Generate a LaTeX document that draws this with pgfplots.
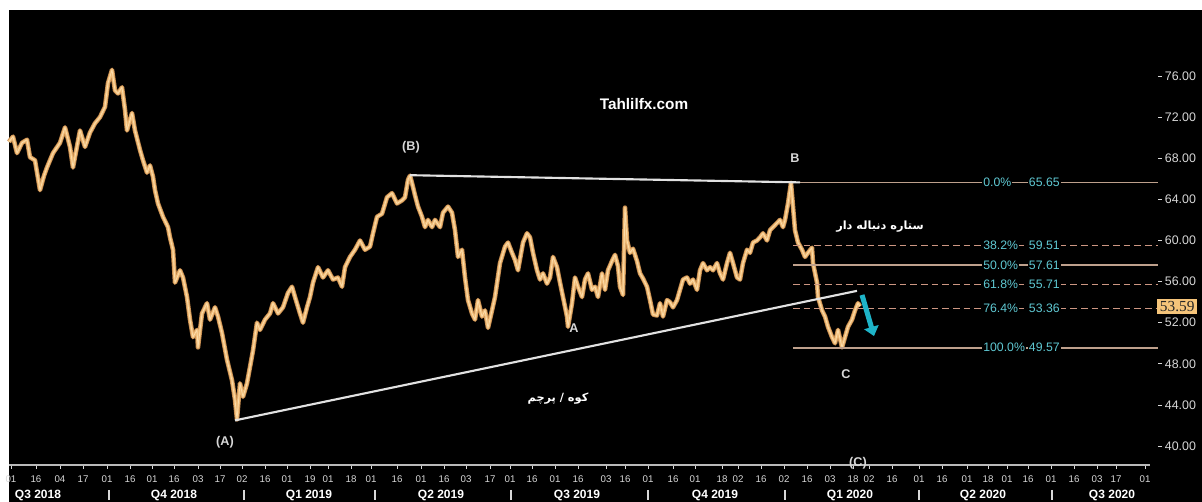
\documentclass[border=0pt]{standalone}
\usepackage{pgfplots}
\pgfplotsset{compat=1.18}
\usepackage{fontspec}
\setmainfont{Liberation Sans}
\newfontfamily\serifnum{Liberation Serif}
\newfontfamily\arabicfont[Script=Arabic]{DejaVu Sans}
\TeXXeTstate=1
\usetikzlibrary{arrows.meta}
\definecolor{pricelo}{RGB}{196,138,78}
\definecolor{price}{RGB}{240,188,120}
\definecolor{pricehi}{RGB}{252,220,170}
\definecolor{trend}{RGB}{225,225,225}
\definecolor{fibsolid}{RGB}{190,160,140}
\definecolor{fibdash}{RGB}{205,150,130}
\definecolor{fibtxt}{RGB}{95,200,210}
\definecolor{arrowc}{RGB}{30,180,200}
\definecolor{lbl}{RGB}{215,215,215}
\definecolor{pxbox}{RGB}{245,196,122}
\pgfplotstableread{
x v
9 69.6
13 70.1
17 68.5
22 69.5
27 69.8
30 68.1
35 67.8
40 64.9
44 66.3
47 67.1
53 68.5
60 69.5
65 71.0
70 69.1
73 67.1
80 70.7
85 69.1
90 70.5
95 71.4
100 72.0
105 73.0
108 75.3
112 76.6
115 74.6
118 74.3
122 74.9
125 72.7
127 70.7
132 72.4
135 70.7
140 68.8
143 67.8
147 66.6
150 67.3
153 66.2
155 64.9
158 63.6
163 62.3
168 61.3
170 60.3
173 59.1
175 55.9
180 57.1
183 56.4
187 54.5
190 52.3
193 50.6
197 51.3
198 49.6
202 52.9
207 53.9
210 52.3
215 53.5
218 52.6
222 51.0
227 48.4
232 46.4
235 44.5
237 42.6
240 46.1
243 44.8
247 46.1
250 47.7
253 49.3
257 52.0
260 51.3
265 52.3
270 52.9
273 53.9
278 52.9
283 53.5
288 54.9
292 55.5
295 54.5
300 52.9
303 52.0
307 53.5
310 54.5
313 55.9
318 57.4
323 56.4
328 57.1
333 56.2
338 56.4
342 55.5
345 57.4
350 58.4
355 59.1
360 60.0
365 59.1
370 59.4
373 60.7
377 62.3
382 62.6
387 64.2
392 64.6
397 63.6
402 63.9
405 64.2
408 65.9
410 66.3
412 65.6
415 64.4
418 63.3
422 62.3
425 61.3
428 62.0
432 61.3
435 62.0
440 61.3
443 62.7
448 63.3
452 62.7
455 61.0
458 58.4
462 59.1
465 56.4
468 54.2
472 52.9
475 52.3
478 54.2
482 52.6
485 53.2
488 51.5
492 53.2
495 54.5
500 57.8
505 59.4
508 59.8
512 58.8
515 58.1
518 57.1
523 59.8
527 60.7
530 60.3
533 58.8
537 57.1
540 56.2
543 56.8
547 55.8
550 56.4
553 58.4
557 57.4
560 55.9
563 54.5
567 52.6
568 51.6
572 53.9
575 56.4
578 55.5
582 54.5
585 56.2
588 56.8
592 55.2
595 55.5
598 54.5
602 56.8
605 55.2
608 57.1
612 58.0
615 58.6
618 57.5
620 55.5
623 54.7
625 63.2
627 60.0
630 58.8
633 59.2
637 58.0
640 56.8
643 56.3
647 55.5
650 54.2
653 52.8
657 52.7
660 53.9
663 52.6
667 54.2
670 54.0
673 53.5
677 54.2
680 55.2
683 56.2
687 56.4
690 55.8
693 56.2
697 55.2
700 57.1
703 57.8
707 57.1
710 57.4
713 57.1
717 57.8
720 56.8
723 56.2
727 57.8
730 58.8
733 57.8
737 56.4
740 56.2
743 57.8
747 59.1
750 58.8
753 59.8
757 60.0
760 60.3
763 60.7
767 60.0
770 61.0
773 61.3
777 61.7
780 62.0
783 61.3
785 62.0
788 63.6
791 65.6
793 63.3
795 61.0
798 59.8
802 59.1
805 58.4
808 58.8
812 59.3
813 57.8
817 55.9
818 54.5
822 53.2
825 52.6
828 51.6
832 50.6
835 50.0
838 51.3
842 49.6
845 50.6
848 51.6
852 52.3
855 53.2
858 53.9
860 53.6
}\pricedata
\begin{document}
\begin{tikzpicture}
\useasboundingbox (0,0) rectangle (901.5pt,376.5pt);
\fill[white] (0,0) rectangle (901.5pt,376.5pt);
\fill[black] (6.75pt,0) rectangle (901.5pt,369pt);
\begin{axis}[
  at={(6.75pt,27.75pt)}, anchor=south west,
  scale only axis, width=861.75pt, height=341.25pt,
  xmin=9, xmax=1158, ymin=38.16, ymax=82.42,
  axis line style={draw=none},
  clip=false,
  tick align=outside,
  major tick length=3pt,
  tick style={draw=lbl, line width=0.6pt},
  xtick pos=bottom, ytick pos=right, yticklabel pos=right,
  xtick={11,36,60,83,107,130,152,174,198,220,242,265,287,310,328,351,371,397,421,444,466,490,510,532,555,578,606,625,648,673,695,722,738,761,784,807,830,853,869,892,919,942,967,988,1007,1028,1051,1074,1097,1116,1145},
  xticklabels={01,16,04,17,01,16,01,16,03,17,02,16,01,19,01,18,01,16,01,16,03,17,01,16,01,16,03,16,01,16,01,18,02,16,02,16,03,18,02,16,01,16,01,18,01,16,01,16,03,17,01},
  xticklabel style={font=\fontsize{7.3}{8}\selectfont, text=lbl, inner sep=1.5pt, yshift=-3.5pt},
  ytick={40,44,...,76},
  yticklabel style={font=\fontsize{9.3}{10}\selectfont, text=lbl, inner sep=2pt},
  /pgf/number format/.cd, fixed, fixed zerofill, precision=2, assume math mode=true,
]
% price
\addplot[pricelo, line width=3.4pt, line join=round] table[x=x,y=v]{\pricedata};
\addplot[price, line width=2.2pt, line join=round] table[x=x,y=v]{\pricedata};
\addplot[pricehi, line width=0.6pt, line join=round] table[x=x,y=v]{\pricedata};
% trend lines
\addplot[trend, line width=1.6pt] coordinates {(410,66.35) (800,65.65)};
\addplot[trend, line width=1.6pt] coordinates {(235,42.5) (857,55.1)};
% fib levels
\addplot[fibsolid, line width=1.3pt] coordinates {(800,65.65) (1158,65.65)};
\addplot[fibdash, line width=1.1pt, dash pattern=on 5pt off 3pt] coordinates {(793,59.51) (1158,59.51)};
\addplot[fibsolid, line width=1.3pt] coordinates {(793,57.61) (1158,57.61)};
\addplot[fibdash, line width=1.1pt, dash pattern=on 5pt off 3pt] coordinates {(793,55.71) (1158,55.71)};
\addplot[fibdash, line width=1.1pt, dash pattern=on 5pt off 3pt] coordinates {(793,53.36) (1158,53.36)};
\addplot[fibsolid, line width=1.3pt] coordinates {(793,49.57) (1158,49.57)};
% x axis line
\addplot[draw={rgb,255:red,185;green,185;blue,185}, line width=1.3pt] coordinates {(9,38.16) (1150,38.16)};
% fib labels
\begin{scope}[every node/.style={font=\fontsize{9.2}{10}\selectfont, text=fibtxt, fill=black, inner sep=0.8pt}]
\node[anchor=west] at (axis cs:982,65.65) {0.0\%};
\node[anchor=east] at (axis cs:1061,65.65) {65.65};
\node[anchor=west] at (axis cs:982,59.51) {38.2\%};
\node[anchor=east] at (axis cs:1061,59.51) {59.51};
\node[anchor=west] at (axis cs:982,57.61) {50.0\%};
\node[anchor=east] at (axis cs:1061,57.61) {57.61};
\node[anchor=west] at (axis cs:982,55.71) {61.8\%};
\node[anchor=east] at (axis cs:1061,55.71) {55.71};
\node[anchor=west] at (axis cs:982,53.36) {76.4\%};
\node[anchor=east] at (axis cs:1061,53.36) {53.36};
\node[anchor=west] at (axis cs:982,49.57) {100.0\%};
\node[anchor=east] at (axis cs:1061,49.57) {49.57};
\end{scope}
% current price box
\node[anchor=west, fill=pxbox, text=black!85, inner xsep=2pt, inner ysep=1.8pt, font=\serifnum\fontsize{11.5}{12}\selectfont] at (axis cs:1157,53.59) {53.59};
% arrow
\draw[arrowc, line width=3.8pt, -{Triangle[length=7pt,width=11pt]}] (axis cs:862,54.7) -- (axis cs:874,50.7);
% wave labels
\begin{scope}[every node/.style={text=lbl, font=\bfseries\fontsize{9.5}{11}\selectfont}]
\node at (axis cs:411,69.09) {(B)};
\node at (axis cs:795,68.02) {B};
\node at (axis cs:225,40.4) {(A)};
\node at (axis cs:574,51.49) {A};
\node at (axis cs:846,47.01) {C};
\node at (axis cs:858,38.3) {(C)};
\end{scope}
\node[text=white, font=\bfseries\fontsize{11.5}{12}\selectfont] at (axis cs:644,73.28) {Tahlilfx.com};
\node[text=white, font=\arabicfont\bfseries\fontsize{8.5}{10}\selectfont] at (axis cs:880,61.31) {\beginR ستاره دنباله دار\endR};
\node[text=white, font=\arabicfont\bfseries\fontsize{8.5}{10}\selectfont] at (axis cs:558,44.58) {\beginR کوه / پرچم\endR};
% quarter labels
\begin{scope}[every node/.style={text=white, font=\bfseries\fontsize{9}{10}\selectfont}]
\node at (axis cs:38,35.15) {Q3 2018};
\node at (axis cs:174,35.15) {Q4 2018};
\node at (axis cs:309,35.15) {Q1 2019};
\node at (axis cs:441,35.15) {Q2 2019};
\node at (axis cs:577,35.15) {Q3 2019};
\node at (axis cs:715,35.15) {Q4 2019};
\node at (axis cs:850,35.15) {Q1 2020};
\node at (axis cs:983,35.15) {Q2 2020};
\node at (axis cs:1112,35.15) {Q3 2020};
\end{scope}
\addplot[lbl, line width=0.8pt] coordinates {(109,35.75) (109,34.75)};
\addplot[lbl, line width=0.8pt] coordinates {(244,35.75) (244,34.75)};
\addplot[lbl, line width=0.8pt] coordinates {(375,35.75) (375,34.75)};
\addplot[lbl, line width=0.8pt] coordinates {(511,35.75) (511,34.75)};
\addplot[lbl, line width=0.8pt] coordinates {(648,35.75) (648,34.75)};
\addplot[lbl, line width=0.8pt] coordinates {(785,35.75) (785,34.75)};
\addplot[lbl, line width=0.8pt] coordinates {(919,35.75) (919,34.75)};
\addplot[lbl, line width=0.8pt] coordinates {(1052,35.75) (1052,34.75)};
\end{axis}
\end{tikzpicture}
\end{document}
